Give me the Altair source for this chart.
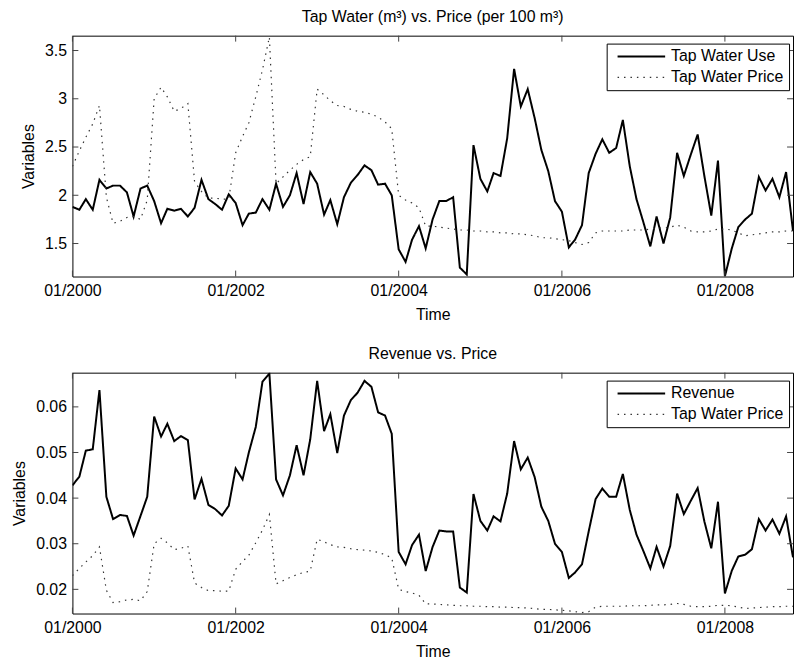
import altair as alt
import pandas as pd

FONT = "Liberation Sans"

# monthly time axis, 01/2000 .. 11/2008
months = [d.strftime("%Y/%m/%d") for d in pd.date_range("2000-01-01", periods=107, freq="MS")]

tap_water_use = [
    1.88, 1.85, 1.96, 1.85, 2.16, 2.07, 2.10, 2.10, 2.03, 1.78, 2.07, 2.10,
    1.94, 1.71, 1.86, 1.84, 1.86, 1.78, 1.87, 2.16, 1.96, 1.91, 1.85, 2.01,
    1.92, 1.69, 1.81, 1.82, 1.96, 1.85, 2.12, 1.88, 2.00, 2.23, 1.91, 2.24,
    2.12, 1.80, 1.95, 1.70, 1.98, 2.13, 2.21, 2.31, 2.26, 2.11, 2.12, 2.00,
    1.44, 1.31, 1.54, 1.68, 1.45, 1.75, 1.94, 1.94, 1.98, 1.25, 1.18, 2.52,
    2.17, 2.04, 2.23, 2.20, 2.59, 3.31, 2.92, 3.10, 2.80, 2.47, 2.25, 1.94,
    1.83, 1.46, 1.54, 1.69, 2.23, 2.43, 2.58, 2.44, 2.49, 2.78, 2.30, 1.96,
    1.72, 1.47, 1.78, 1.50, 1.77, 2.44, 2.20, 2.42, 2.63, 2.20, 1.79, 2.36,
    1.16, 1.45, 1.67, 1.75, 1.81, 2.19, 2.05, 2.17, 1.98, 2.24, 1.63,
]

tap_water_price = [
    2.30, 2.46, 2.60, 2.74, 2.93, 1.98, 1.71, 1.73, 1.77, 1.78, 1.75, 1.95,
    3.00, 3.12, 3.02, 2.87, 2.90, 2.95, 2.14, 2.04, 1.97, 1.97, 1.96, 1.96,
    2.44, 2.61, 2.75, 3.02, 3.30, 3.64, 2.12, 2.19, 2.26, 2.32, 2.37, 2.40,
    3.10, 3.04, 2.98, 2.93, 2.92, 2.89, 2.87, 2.86, 2.84, 2.81, 2.76, 2.69,
    2.00, 1.95, 1.92, 1.87, 1.68, 1.68, 1.67, 1.66, 1.65, 1.64, 1.64, 1.63,
    1.63, 1.62, 1.62, 1.61, 1.61, 1.60, 1.60, 1.59, 1.58, 1.56, 1.56, 1.55,
    1.54, 1.53, 1.51, 1.49, 1.51, 1.61, 1.63, 1.63, 1.63, 1.63, 1.64, 1.64,
    1.64, 1.65, 1.66, 1.66, 1.67, 1.69, 1.67, 1.63, 1.62, 1.62, 1.63, 1.65,
    1.65, 1.64, 1.61, 1.58, 1.59, 1.60, 1.61, 1.62, 1.62, 1.63, 1.63,
]

revenue = [
    0.0428, 0.0447, 0.0504, 0.0507, 0.0637, 0.0403, 0.0354, 0.0363, 0.0361, 0.0318, 0.0361, 0.0403,
    0.0579, 0.0535, 0.0563, 0.0525, 0.0536, 0.0527, 0.0397, 0.0442, 0.0385, 0.0376, 0.0362, 0.0383,
    0.0465, 0.0441, 0.0500, 0.0556, 0.0655, 0.0673, 0.0441, 0.0406, 0.0450, 0.0516, 0.0450, 0.0529,
    0.0657, 0.0547, 0.0584, 0.0499, 0.0581, 0.0615, 0.0631, 0.0657, 0.0644, 0.0588, 0.0581, 0.0541,
    0.0282, 0.0255, 0.0297, 0.0320, 0.0240, 0.0293, 0.0329, 0.0327, 0.0327, 0.0204, 0.0193, 0.0409,
    0.0350, 0.0329, 0.0360, 0.0349, 0.0410, 0.0525, 0.0463, 0.0489, 0.0446, 0.0381, 0.0350, 0.0300,
    0.0282, 0.0225, 0.0237, 0.0255, 0.0327, 0.0398, 0.0421, 0.0403, 0.0403, 0.0453, 0.0374, 0.0320,
    0.0284, 0.0246, 0.0293, 0.0250, 0.0295, 0.0410, 0.0365, 0.0394, 0.0422, 0.0349, 0.0290, 0.0392,
    0.0191, 0.0241, 0.0272, 0.0276, 0.0288, 0.0354, 0.0329, 0.0353, 0.0322, 0.0360, 0.0270,
]

# price per m3 (same series, shown in the lower panel in units per m3)
price_per_m3 = [p / 100 for p in tap_water_price]

x_tick_dates = ["2000/01/01", "2002/01/01", "2004/01/01", "2006/01/01", "2008/01/01"]
top_y_ticks = [1.5, 2.0, 2.5, 3.0, 3.5]
bottom_y_ticks = [0.02, 0.03, 0.04, 0.05, 0.06]

top_names = ["Tap Water Use", "Tap Water Price"]
bottom_names = ["Revenue", "Tap Water Price"]

W, H = 727, 243
TICK = 6

x_domain = [alt.DateTime(year=2000, month=1, date=1), alt.DateTime(year=2008, month=11, date=1)]
x_values = [alt.DateTime(year=y, month=1, date=1) for y in (2000, 2002, 2004, 2006, 2008)]


def panel(first, second, names, ydomain, yticks, title, title_dy):
    df = pd.concat([
        pd.DataFrame({"date": months, "value": first, "series": names[0]}),
        pd.DataFrame({"date": months, "value": second, "series": names[1]}),
    ])
    leg = alt.Legend(
        orient="none", legendX=539, legendY=8, title=None,
        strokeColor="black", fillColor="white", padding=5, cornerRadius=0,
        symbolType="stroke", symbolSize=2304, symbolOffset=5, labelOffset=5,
        labelFont=FONT, labelFontSize=16, labelColor="black", rowPadding=5,
        clipHeight=16, labelLimit=130,
    )
    x_enc = alt.X("date:T", scale=alt.Scale(domain=x_domain),
                  axis=alt.Axis(values=x_values, format="%m/%Y", title="Time", labelFlush=False))
    y_enc = alt.Y("value:Q", scale=alt.Scale(domain=ydomain, nice=False, zero=False),
                  axis=alt.Axis(values=yticks, format="~g", title="Variables"))
    lines = alt.Chart(df).mark_line(clip=True).encode(
        x=x_enc,
        y=y_enc,
        color=alt.Color("series:N", scale=alt.Scale(domain=names, range=["#000000", "#333333"]), legend=leg),
        strokeDash=alt.StrokeDash("series:N", scale=alt.Scale(domain=names, range=[[1, 0], [1.5, 5]]), legend=leg),
        strokeWidth=alt.StrokeWidth("series:N", scale=alt.Scale(domain=names, range=[2, 1.2]), legend=leg),
    )
    xt = pd.DataFrame({"date": x_tick_dates})
    yt = pd.DataFrame({"value": yticks})
    rule = dict(color="#444444", strokeWidth=1)
    xb = alt.Chart(xt).mark_rule(**rule).encode(x=x_enc, y=alt.value(H), y2=alt.value(H - TICK))
    xtp = alt.Chart(xt).mark_rule(**rule).encode(x=x_enc, y=alt.value(0), y2=alt.value(TICK))
    yl = alt.Chart(yt).mark_rule(**rule).encode(y=y_enc, x=alt.value(0), x2=alt.value(TICK))
    yr = alt.Chart(yt).mark_rule(**rule).encode(y=y_enc, x=alt.value(W - TICK), x2=alt.value(W))
    return alt.layer(lines, xb, xtp, yl, yr).properties(
        width=W, height=H,
        title=alt.TitleParams(title, font=FONT, fontSize=16, fontWeight="normal", color="black",
                              anchor="middle", offset=8, dy=title_dy),
    )


top = panel(tap_water_use, tap_water_price, top_names, [1.158, 3.654], top_y_ticks,
            "Tap Water (m\u00b3) vs. Price (per 100 m\u00b3)", -2)
bottom = panel(revenue, price_per_m3, bottom_names, [0.0147, 0.0675], bottom_y_ticks,
               "Revenue vs. Price", -2)

chart = alt.vconcat(top, bottom, spacing=23).resolve_scale(
    color="independent", strokeDash="independent", strokeWidth="independent",
).properties(
    padding={"left": 3, "top": -2, "right": 0, "bottom": 0},
    background="white",
).configure_view(stroke="black", strokeWidth=1).configure_axis(
    grid=False, domain=False, ticks=False, tickSize=0,
    labelFont=FONT, labelFontSize=16, labelColor="black", labelPadding=6,
    titleFont=FONT, titleFontSize=16, titleFontWeight="normal", titleColor="black", titlePadding=8,
)

chart.save("out.html", embed_options={"renderer": "svg", "actions": False})
